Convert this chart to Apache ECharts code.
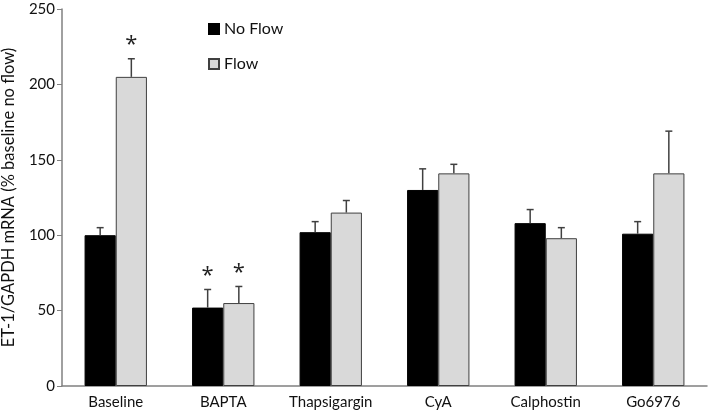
<!DOCTYPE html>
<html><head><meta charset="utf-8">
<script src="https://cdn.jsdelivr.net/npm/echarts@6/dist/echarts.min.js"></script>
<style>html,body{margin:0;padding:0;background:#fff}#c{width:709px;height:414px}</style>
</head><body><div id="c"></div>
<script>
var categories = ['Baseline','BAPTA','Thapsigargin','CyA','Calphostin','Go6976'];
var noFlow = [100, 52, 102, 130, 108, 101];
var noFlowErr = [5, 12, 7, 14, 9, 8];
var flow = [205, 55, 115, 141, 98, 141];
var flowErr = [12, 11, 8, 6, 7, 28];
var noFlowSig = [false, true, false, false, false, false];
var flowSig = [true, true, false, false, false, false];
var yTicks = [0, 50, 100, 150, 200, 250];

var FONT = 'Lato, "Open Sans", sans-serif';
var GAP = 0.42;

function errSeries(vals, errs, sig, side) {
  var data = vals.map(function(v, i){ return [i, v, v + errs[i], sig[i] ? 1 : 0]; });
  return {
    type: 'custom', z: 5, silent: true,
    renderItem: function(params, api) {
      var idx = api.value(0);
      var base = api.coord([idx, api.value(1)]);
      var top = api.coord([idx, api.value(2)]);
      var cw = api.size([1, 0])[0];
      var bw = cw * (1 - GAP) / 2;
      var x = base[0] + side * bw / 2;
      var children = [
        {type:'line', shape:{x1:x, y1:base[1], x2:x, y2:top[1]}, style:{stroke:'#404040', lineWidth:1.5}},
        {type:'line', shape:{x1:x-3.5, y1:top[1], x2:x+3.5, y2:top[1]}, style:{stroke:'#404040', lineWidth:1.5}}
      ];
      if (api.value(3)) {
        children.push({type:'text', style:{text:'*', x:x, y:top[1]-3, align:'center', verticalAlign:'bottom', font:'22px "Open Sans", sans-serif', fill:'#222'}});
      }
      return {type:'group', children: children};
    },
    data: data
  };
}

var chart = echarts.init(document.getElementById('c'));
chart.setOption({
  animation: false,
  backgroundColor: '#fff',
  grid: {left: 62, right: 2, top: 9, bottom: 28, containLabel: false, outerBoundsMode: 'none'},
  legend: {
    orient: 'vertical', left: 203, top: 16, itemGap: 19, itemWidth: 10, itemHeight: 10,
    icon: 'rect',
    textStyle: {fontFamily: FONT, fontSize: 16, color: '#111'},
    data: ['No Flow', 'Flow']
  },
  xAxis: {
    type: 'category', data: categories,
    axisLine: {lineStyle: {color: '#808080', width: 1.5}},
    axisTick: {show: false},
    axisLabel: {fontFamily: FONT, fontSize: 15, color: '#111', margin: 9, interval: 0}
  },
  yAxis: {
    type: 'value', min: yTicks[0], max: yTicks[yTicks.length-1], interval: 50,
    name: 'ET-1/GAPDH mRNA (% baseline no flow)', nameLocation: 'middle', nameGap: 45,
    nameMoveOverlap: false,
    nameTextStyle: {fontFamily: FONT, fontSize: 16.5, color: '#111'},
    axisLine: {show: true, lineStyle: {color: '#808080', width: 1.5}},
    axisTick: {show: true, length: 5, lineStyle: {color: '#808080'}},
    splitLine: {show: false},
    axisLabel: {fontFamily: FONT, fontSize: 15, color: '#111', margin: 7}
  },
  series: [
    {name: 'No Flow', type: 'bar', data: noFlow, barGap: '0%', barCategoryGap: (GAP*100)+'%',
     itemStyle: {color: '#000', borderColor: '#000', borderWidth: 1}},
    {name: 'Flow', type: 'bar', data: flow, barGap: '0%', barCategoryGap: (GAP*100)+'%',
     itemStyle: {color: '#d9d9d9', borderColor: '#404040', borderWidth: 1}},
    errSeries(noFlow, noFlowErr, noFlowSig, -1),
    errSeries(flow, flowErr, flowSig, 1)
  ]
});
</script></body></html>
